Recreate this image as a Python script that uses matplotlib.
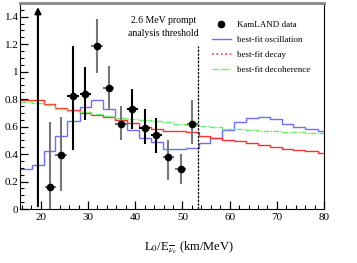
import numpy as np
import matplotlib.pyplot as plt
from matplotlib.lines import Line2D
from matplotlib.ticker import MultipleLocator, FuncFormatter

plt.rcParams['font.family'] = ['Liberation Serif', 'DejaVu Serif']
plt.rcParams['mathtext.fontset'] = 'stix'

# KamLAND data points (L0/E, ratio, lower, upper)
data_x = [22.0, 24.3, 26.8, 29.4, 31.9, 34.4, 37.0, 39.4, 42.0, 44.5, 47.0, 49.6, 52.1]
data_y = [0.16, 0.39, 0.82, 0.84, 1.19, 0.88, 0.62, 0.73, 0.59, 0.54, 0.38, 0.29, 0.62]
data_lo = [0.0, 0.13, 0.43, 0.65, 0.99, 0.72, 0.50, 0.58, 0.47, 0.41, 0.21, 0.18, 0.47]
data_hi = [0.63, 0.67, 1.19, 1.03, 1.38, 1.04, 0.75, 0.87, 0.73, 0.66, 0.50, 0.40, 0.79]
data_xerr = 1.2
bar_grey = [True, True, False, False, True, True, True, False, False, False, True, True, True]
first_bin_x = 19.4  # off-scale bin, drawn as arrow

# model histograms
edges = [15.6, 18.1, 20.6, 23.1, 25.6, 28.2, 30.7, 33.2, 35.7, 38.2, 40.8, 43.3, 45.8,
         48.3, 50.8, 53.4, 55.9, 58.4, 60.9, 63.4, 66.0, 68.5, 71.0, 73.5, 76.0, 78.6, 81.1]
osc = [0.29, 0.32, 0.42, 0.53, 0.64, 0.74, 0.795, 0.73, 0.65, 0.575, 0.52, 0.49, 0.44,
       0.435, 0.445, 0.48, 0.52, 0.575, 0.635, 0.665, 0.672, 0.655, 0.62, 0.60, 0.58, 0.565]
decay = [0.795, 0.79, 0.765, 0.735, 0.72, 0.70, 0.687, 0.668, 0.65, 0.626, 0.595, 0.585, 0.57,
         0.57, 0.56, 0.534, 0.52, 0.505, 0.493, 0.48, 0.464, 0.454, 0.44, 0.427, 0.42, 0.408]
decoh = [0.777, 0.77, 0.76, 0.73, 0.716, 0.706, 0.694, 0.675, 0.663, 0.655, 0.646, 0.64, 0.631,
         0.619, 0.612, 0.607, 0.597, 0.585, 0.58, 0.573, 0.57, 0.566, 0.56, 0.558, 0.553, 0.55]

y_ticks = [0, 0.2, 0.4, 0.6, 0.8, 1.0, 1.2, 1.4]
threshold = 53.2

fig = plt.figure(figsize=(3.57, 2.63), dpi=100)
ax = fig.add_axes([0.056, 0.205, 0.852, 0.784])

ax.stairs(osc, edges, baseline=None, color='#6f6fff', lw=1.0)
ax.stairs(decay, edges, baseline=None, color='#ff3030', lw=1.0)
ax.stairs(decoh, edges, baseline=None, color='#66ee66', lw=1.0, linestyle=(0, (4, 1, 1, 1)))

for i in range(len(data_x)):
    c = '#777777' if bar_grey[i] else 'black'
    ax.errorbar(data_x[i], data_y[i],
                yerr=[[data_y[i] - data_lo[i]], [data_hi[i] - data_y[i]]],
                xerr=data_xerr, fmt='o', color='black', ecolor=c,
                elinewidth=1.5, markersize=4.5, capsize=0)

ax.annotate('', xy=(first_bin_x, 1.49), xytext=(first_bin_x, 0.0),
            arrowprops=dict(arrowstyle='-|>', color='black', lw=1.5, mutation_scale=9))

ax.plot([threshold, threshold], [0, 1.19], color='black', lw=0.9, linestyle=(0, (2, 1)))
ax.text(46, 1.325, '2.6 MeV prompt\nanalysis threshold', ha='center', va='center',
        fontsize=7, linespacing=1.6)

ax.xaxis.set_major_locator(MultipleLocator(10))
ax.xaxis.set_minor_locator(MultipleLocator(2))
ax.set_yticks(y_ticks)
ax.yaxis.set_minor_locator(MultipleLocator(0.05))
ax.yaxis.set_major_formatter(FuncFormatter(lambda v, p: ('%g' % round(v, 2))))
ax.set_xlim(15.6, 80)
ax.set_ylim(0, 1.5)
ax.tick_params(which='both', direction='in', top=False, right=False, labelsize=8)
ax.tick_params(which='major', length=6, width=0.9)
ax.tick_params(which='minor', length=3, width=0.8)
ax.tick_params(axis='y', pad=1)
ax.tick_params(axis='x', pad=3)

ax.spines['top'].set_color('#888888')
ax.spines['top'].set_linewidth(2)

ax.set_xlabel(r'L$_0$/E$_{\overline{\nu}_e}$ (km/MeV)', fontsize=9)
ax.xaxis.set_label_coords(0.556, -0.15)

handles = [Line2D([], [], marker='o', color='black', linestyle='none', markersize=4.5),
           Line2D([], [], color='#6f6fff', lw=1.0),
           Line2D([], [], color='#ff3030', lw=1.2, linestyle=':'),
           Line2D([], [], color='#66ee66', lw=1.0, linestyle=(0, (4, 1, 1, 1)))]
labels = ['KamLAND data', 'best-fit oscillation', 'best-fit decay', 'best-fit decoherence']
ax.legend(handles, labels, loc='upper left', bbox_to_anchor=(0.63, 0.915), frameon=False,
          fontsize=6.5, handlelength=2.1, handletextpad=0.7, labelspacing=0.75,
          borderpad=0, borderaxespad=0)

fig.savefig('out.png', dpi=100)
